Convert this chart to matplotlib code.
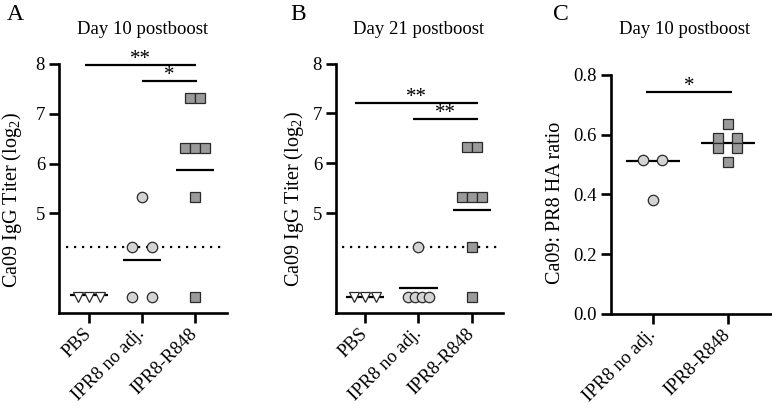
import matplotlib
matplotlib.use("Agg")
import matplotlib.pyplot as plt
import numpy as np

plt.rcParams['font.family'] = ['Liberation Serif', 'DejaVu Serif']
plt.rcParams['mathtext.fontset'] = 'custom'
plt.rcParams['mathtext.rm'] = 'Liberation Serif'

# ---------------- data ----------------
groups_ab = ["PBS", "IPR8 no adj.", "IPR8-R848"]
groups_c = ["IPR8 no adj.", "IPR8-R848"]

# Panel A: Day 10 postboost, log2 titer
a_pbs = [3.32, 3.32, 3.32]
a_pbs_dx = [-0.21, 0.0, 0.21]
a_ipr8 = [5.32, 4.32, 4.32, 3.32, 3.32]
a_ipr8_dx = [0.0, -0.18, 0.18, -0.18, 0.18]
a_r848 = [7.32, 7.32, 6.32, 6.32, 6.32, 5.32, 3.32]
a_r848_dx = [-0.095, 0.095, -0.19, 0.0, 0.19, 0.0, 0.0]
a_center = [3.36, 4.06, 5.88]

# Panel B: Day 21 postboost, log2 titer
b_pbs = [3.32, 3.32, 3.32]
b_pbs_dx = [-0.21, 0.0, 0.21]
b_ipr8 = [4.32, 3.32, 3.32, 3.32, 3.32]
b_ipr8_dx = [0.0, -0.19, -0.06, 0.07, 0.19]
b_r848 = [6.32, 6.32, 5.32, 5.32, 5.32, 4.32, 3.32]
b_r848_dx = [-0.095, 0.095, -0.19, 0.0, 0.19, 0.0, 0.0]
b_center = [3.32, 3.50, 5.06]

# Panel C: Ca09:PR8 HA ratio
c_ipr8 = [0.515, 0.515, 0.383]
c_ipr8_dx = [-0.13, 0.12, 0.0]
c_r848 = [0.637, 0.59, 0.59, 0.557, 0.557, 0.51]
c_r848_dx = [0.0, -0.13, 0.12, -0.13, 0.12, 0.0]
c_center = [0.513, 0.573]

detection_limit = 4.32

# significance bars: (x0, x1, y, label)
a_sig = [(-0.075, 2.02, 7.98, "**"), (1.0, 2.04, 7.66, "*")]
b_sig = [(-0.19, 2.11, 7.20, "**"), (0.9, 2.11, 6.89, "**")]
c_sig = [(-0.09, 1.05, 0.743, "*")]

# ---------------- style ----------------
EDGE = "#2a2a2a"
CIRC = "#d4d4d4"
SQR = "#9a9a9a"
TRI = "#ffffff"
W = 772
H = 411

fig = plt.figure(figsize=(7.72, 4.11), dpi=100)


def px_axes(x0, x1, ytop, ybot):
    return fig.add_axes([x0 / W, 1 - ybot / H, (x1 - x0) / W, (ybot - ytop) / H])


def style_axes(ax):
    for s in ["top", "right"]:
        ax.spines[s].set_visible(False)
    for s in ["left", "bottom"]:
        ax.spines[s].set_linewidth(1.9)
        ax.spines[s].set_color("black")
    ax.tick_params(axis="both", width=1.9, length=7, labelsize=13.5, color="black")
    ax.tick_params(axis="y", pad=3)
    ax.tick_params(axis="x", pad=6)


def draw_group(ax, xc, vals, dxs, marker, face, ms):
    xs = [xc + d for d in dxs]
    ax.plot(xs, vals, linestyle="none", marker=marker, markersize=ms,
            markerfacecolor=face, markeredgecolor=EDGE, markeredgewidth=0.9,
            zorder=4, clip_on=False)


def draw_center(ax, xc, val, hw=0.36):
    ax.plot([xc - hw, xc + hw], [val, val], color="black", lw=1.6, zorder=3,
            solid_capstyle="butt", clip_on=False)


def draw_sig(ax, sigs, dy):
    for x0, x1, y, lab in sigs:
        ax.plot([x0, x1], [y, y], color="black", lw=1.6, clip_on=False,
                solid_capstyle="butt")
        ax.text((x0 + x1) / 2, y + dy, lab, ha="center", va="bottom",
                fontsize=15, clip_on=False)


def xlabels(ax, labels):
    ax.set_xticklabels(labels, rotation=45, ha="right", va="center",
                       rotation_mode="anchor", fontsize=13.5)


# ---------- Panel A ----------
axA = px_axes(59, 227, 64, 313)
style_axes(axA)
axA.set_xlim(-0.566, 2.604)
axA.set_ylim(3.0, 8.0)
axA.set_yticks([5, 6, 7, 8])
axA.set_xticks([0, 1, 2])
xlabels(axA, groups_ab)
axA.plot([-0.43, 2.57], [detection_limit] * 2, color="black", lw=1.6,
         linestyle=(0, (1, 2.6)), zorder=2)
for i, (v, dx, m, f, ms) in enumerate([(a_pbs, a_pbs_dx, "v", TRI, 7.8),
                                       (a_ipr8, a_ipr8_dx, "o", CIRC, 7.5),
                                       (a_r848, a_r848_dx, "s", SQR, 7.2)]):
    draw_center(axA, i, a_center[i])
    draw_group(axA, i, v, dx, m, f, ms)
draw_sig(axA, a_sig, -0.08)

# ---------- Panel B ----------
axB = px_axes(336, 503, 63.5, 313)
style_axes(axB)
axB.set_xlim(-0.542, 2.58)
axB.set_ylim(3.0, 8.0)
axB.set_yticks([5, 6, 7, 8])
axB.set_xticks([0, 1, 2])
xlabels(axB, groups_ab)
axB.plot([-0.43, 2.54], [detection_limit] * 2, color="black", lw=1.6,
         linestyle=(0, (1, 2.6)), zorder=2)
for i, (v, dx, m, f, ms) in enumerate([(b_pbs, b_pbs_dx, "v", TRI, 7.8),
                                       (b_ipr8, b_ipr8_dx, "o", CIRC, 7.5),
                                       (b_r848, b_r848_dx, "s", SQR, 7.2)]):
    draw_center(axB, i, b_center[i])
    draw_group(axB, i, v, dx, m, f, ms)
draw_sig(axB, b_sig, -0.08)

# ---------- Panel C ----------
axC = px_axes(611, 771, 75, 314)
style_axes(axC)
axC.set_xlim(-0.56, 1.573)
axC.set_ylim(0.0, 0.8)
axC.set_yticks([0.0, 0.2, 0.4, 0.6, 0.8])
axC.set_yticklabels(["0.0", "0.2", "0.4", "0.6", "0.8"])
axC.set_xticks([0, 1])
xlabels(axC, groups_c)
for i, (v, dx, m, f, ms) in enumerate([(c_ipr8, c_ipr8_dx, "o", CIRC, 7.5),
                                       (c_r848, c_r848_dx, "s", SQR, 7.2)]):
    draw_center(axC, i, c_center[i])
    draw_group(axC, i, v, dx, m, f, ms)
draw_sig(axC, c_sig, -0.013)

# ---------- texts ----------
def ftext(x, y, s, **kw):
    fig.text(x / W, 1 - y / H, s, **kw)

ftext(15, 14, "A", fontsize=17, ha="center", va="center")
ftext(298, 14, "B", fontsize=17, ha="center", va="center")
ftext(561, 14, "C", fontsize=17, ha="center", va="center")
ftext(143, 29, "Day 10 postboost", fontsize=13.5, ha="center", va="center")
ftext(419, 29, "Day 21 postboost", fontsize=13.5, ha="center", va="center")
ftext(685, 29, "Day 10 postboost", fontsize=13.5, ha="center", va="center")
ftext(12, 200, r"Ca09 IgG Titer (log$_2$)", fontsize=14.5, ha="center", va="center", rotation=90)
ftext(294, 199, r"Ca09 IgG Titer (log$_2$)", fontsize=14.5, ha="center", va="center", rotation=90)
ftext(556, 203, "Ca09: PR8 HA ratio", fontsize=14.5, ha="center", va="center", rotation=90)

fig.savefig("out.png", dpi=100)
